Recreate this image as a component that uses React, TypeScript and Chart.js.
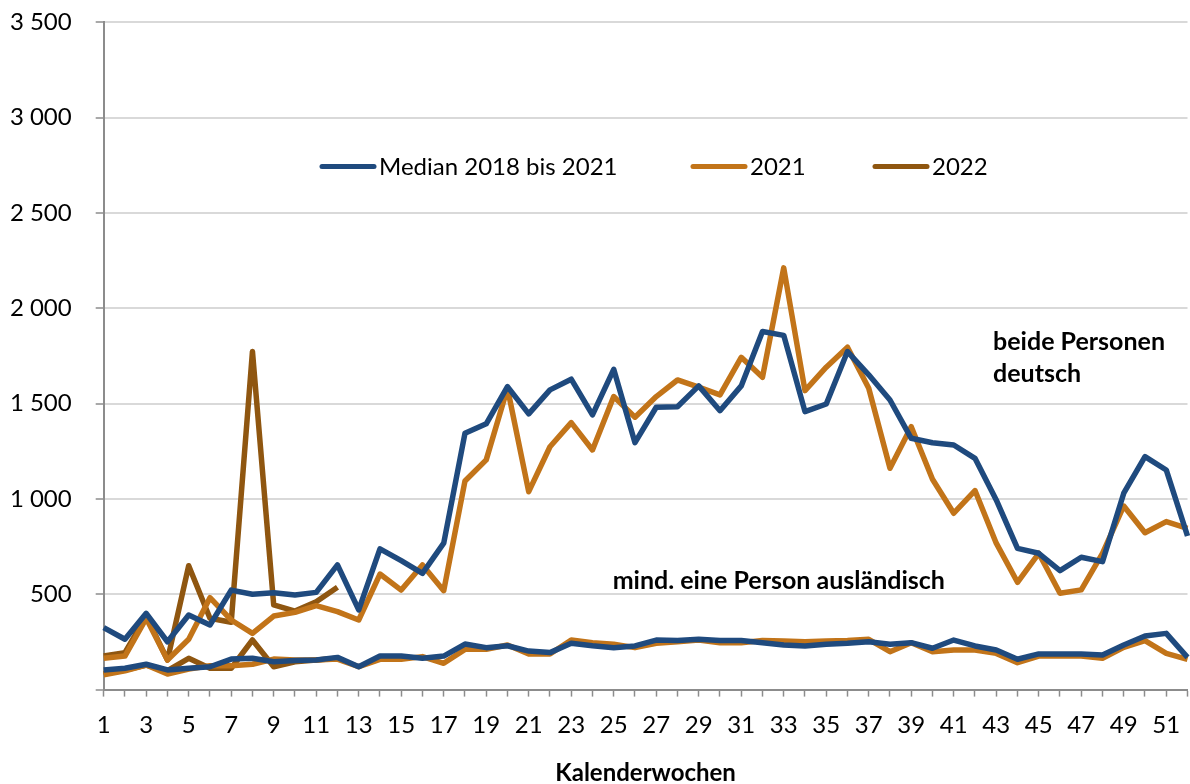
import { useEffect, useRef } from 'react';
import { Chart, registerables } from 'chart.js';

Chart.register(...registerables);

const weeks = ['1','2','3','4','5','6','7','8','9','10','11','12','13','14','15','16','17','18','19','20','21','22','23','24','25','26','27','28','29','30','31','32','33','34','35','36','37','38','39','40','41','42','43','44','45','46','47','48','49','50','51','52'];

const medianGerman = [325,264,400,251,391,339,522,500,508,496,510,654,418,738,676,610,768,1345,1394,1589,1446,1572,1628,1441,1680,1295,1481,1484,1593,1463,1593,1878,1858,1458,1498,1773,1651,1519,1318,1295,1283,1213,995,741,715,624,694,671,1030,1222,1152,806];
const y2021German = [164,176,374,155,264,482,365,295,386,405,440,409,365,606,522,654,519,1094,1205,1581,1038,1274,1400,1257,1537,1429,1537,1624,1586,1546,1743,1638,2212,1568,1691,1796,1581,1161,1379,1103,925,1044,768,563,715,505,523,715,963,823,881,846];
const y2022German = [176,194,386,155,650,374,353,1773,444,412,461,537];

const medianForeign = [103,112,133,103,112,120,160,164,146,152,155,169,120,176,176,164,176,239,220,230,202,194,243,230,220,229,260,257,264,257,257,246,234,229,238,243,251,238,246,217,260,229,208,159,187,187,187,182,234,281,295,169];
const y2021Foreign = [77,99,129,82,108,125,125,133,160,155,155,160,120,159,159,173,138,211,211,234,187,187,260,246,238,220,243,251,260,246,246,257,255,251,255,257,264,199,246,199,208,208,190,141,176,176,176,164,222,257,190,159];
const y2022Foreign = [82,103,129,99,164,112,112,260,120,146,155,164];

const yTicks = [0, 500, 1000, 1500, 2000, 2500, 3000, 3500];
const seriesLabels = ['Median 2018 bis 2021', '2021', '2022'];
const xTitle = 'Kalenderwochen';
const noteGerman = ['beide Personen', 'deutsch'];
const noteForeign = 'mind. eine Person ausländisch';

const BLUE = '#1F4A7E';
const ORANGE = '#C27419';
const BROWN = '#8F5610';
const FONT = 'Lato, "Open Sans", sans-serif';
const AXIS = '#8C8C8C';

function fmt(v: number) {
  if (v === 0) return '';
  return String(v).replace(/\B(?=(\d{3})+(?!\d))/g, ' ');
}

const overlayPlugin = {
  id: 'overlay',
  afterDatasetsDraw(chart: any) {
    const ctx = chart.ctx as CanvasRenderingContext2D;
    const xs = chart.scales.x;
    const ys = chart.scales.y;
    ctx.save();
    // legend
    const legend = [
      { label: seriesLabels[0], color: BLUE, x: 320 },
      { label: seriesLabels[1], color: ORANGE, x: 691 },
      { label: seriesLabels[2], color: BROWN, x: 873 },
    ];
    const ly = 166.5;
    ctx.font = `24px ${FONT}`;
    ctx.textBaseline = 'middle';
    ctx.textAlign = 'left';
    legend.forEach((it) => {
      ctx.strokeStyle = it.color;
      ctx.lineWidth = 5;
      ctx.lineCap = 'round';
      ctx.beginPath();
      ctx.moveTo(it.x + 2, ly);
      ctx.lineTo(it.x + 54, ly);
      ctx.stroke();
      ctx.fillStyle = '#000';
      ctx.fillText(it.label, it.x + 59, ly + 1);
    });
    // annotations
    ctx.font = `bold 25px ${FONT}`;
    ctx.fillStyle = '#000';
    const gx = xs.getPixelForValue(41.85);
    ctx.fillText(noteGerman[0], gx, ys.getPixelForValue(1824));
    ctx.fillText(noteGerman[1], gx, ys.getPixelForValue(1656));
    const fx = xs.getPixelForValue(23.95);
    ctx.fillText(noteForeign, fx, ys.getPixelForValue(570));
    ctx.restore();
  },
};

export default function App() {
  const ref = useRef<HTMLCanvasElement>(null);
  useEffect(() => {
    document.body.style.margin = '0';
    const line = (label: string, data: number[], color: string) => ({
      label,
      data,
      borderColor: color,
      backgroundColor: color,
      borderWidth: 5.5,
      pointRadius: 0,
      pointHoverRadius: 0,
      tension: 0,
      fill: false,
      borderJoinStyle: 'round' as const,
      borderCapStyle: 'butt' as const,
    });
    const chart = new Chart(ref.current!, {
      type: 'line',
      data: {
        labels: weeks,
        datasets: [
          line(seriesLabels[0], medianGerman, BLUE),
          line(seriesLabels[0], medianForeign, BLUE),
          line(seriesLabels[1], y2021German, ORANGE),
          line(seriesLabels[1], y2021Foreign, ORANGE),
          line(seriesLabels[2], y2022German, BROWN),
          line(seriesLabels[2], y2022Foreign, BROWN),
        ],
      },
      options: {
        responsive: false,
        animation: false,
        devicePixelRatio: 1,
        layout: { padding: { top: 22.3, right: 2.5, left: 0, bottom: 0 } },
        plugins: {
          legend: { display: false },
          tooltip: { enabled: false },
          title: { display: false },
        },
        scales: {
          x: {
            type: 'category',
            offset: false,
            grid: {
              display: true,
              drawOnChartArea: false,
              drawTicks: true,
              tickLength: 7,
              tickColor: AXIS,
              tickWidth: 1.5,
              offset: false,
            },
            border: { display: true, color: AXIS, width: 2 },
            ticks: {
              autoSkip: false,
              maxRotation: 0,
              minRotation: 0,
              padding: 14,
              color: '#000',
              font: { family: FONT, size: 24, lineHeight: 1.2 },
              callback: (_v: any, i: number) => (i % 2 === 0 ? weeks[i] : ''),
            },
            title: {
              display: true,
              text: xTitle,
              color: '#000',
              font: { family: FONT, size: 24, weight: 'bold', lineHeight: 1.2 },
              padding: { top: 4, bottom: -4 },
            },
            afterFit: (s: any) => {
              s.height = 94.4;
              s.paddingLeft = 0;
              s.paddingRight = 0;
            },
          },
          y: {
            min: 0,
            max: 3500,
            afterBuildTicks: (s: any) => { s.ticks = yTicks.map((v) => ({ value: v })); },
            grid: {
              color: '#D9D9D9',
              lineWidth: 2,
              tickLength: 8,
              tickColor: AXIS,
              tickWidth: 1.5,
            },
            border: { display: true, color: AXIS, width: 2 },
            ticks: {
              padding: 24,
              color: '#000',
              font: { family: FONT, size: 24, lineHeight: 1.2 },
              callback: (v: any) => fmt(Number(v)),
            },
            afterFit: (s: any) => {
              s.width = 103.7;
              s.paddingTop = 0;
              s.paddingBottom = 0;
            },
          },
        },
      },
      plugins: [overlayPlugin],
    });
    return () => chart.destroy();
  }, []);
  return (
    <div style={{ width: 1190, height: 784, position: 'relative' }}>
      <canvas ref={ref} width={1190} height={784} style={{ display: 'block' }} />
    </div>
  );
}
